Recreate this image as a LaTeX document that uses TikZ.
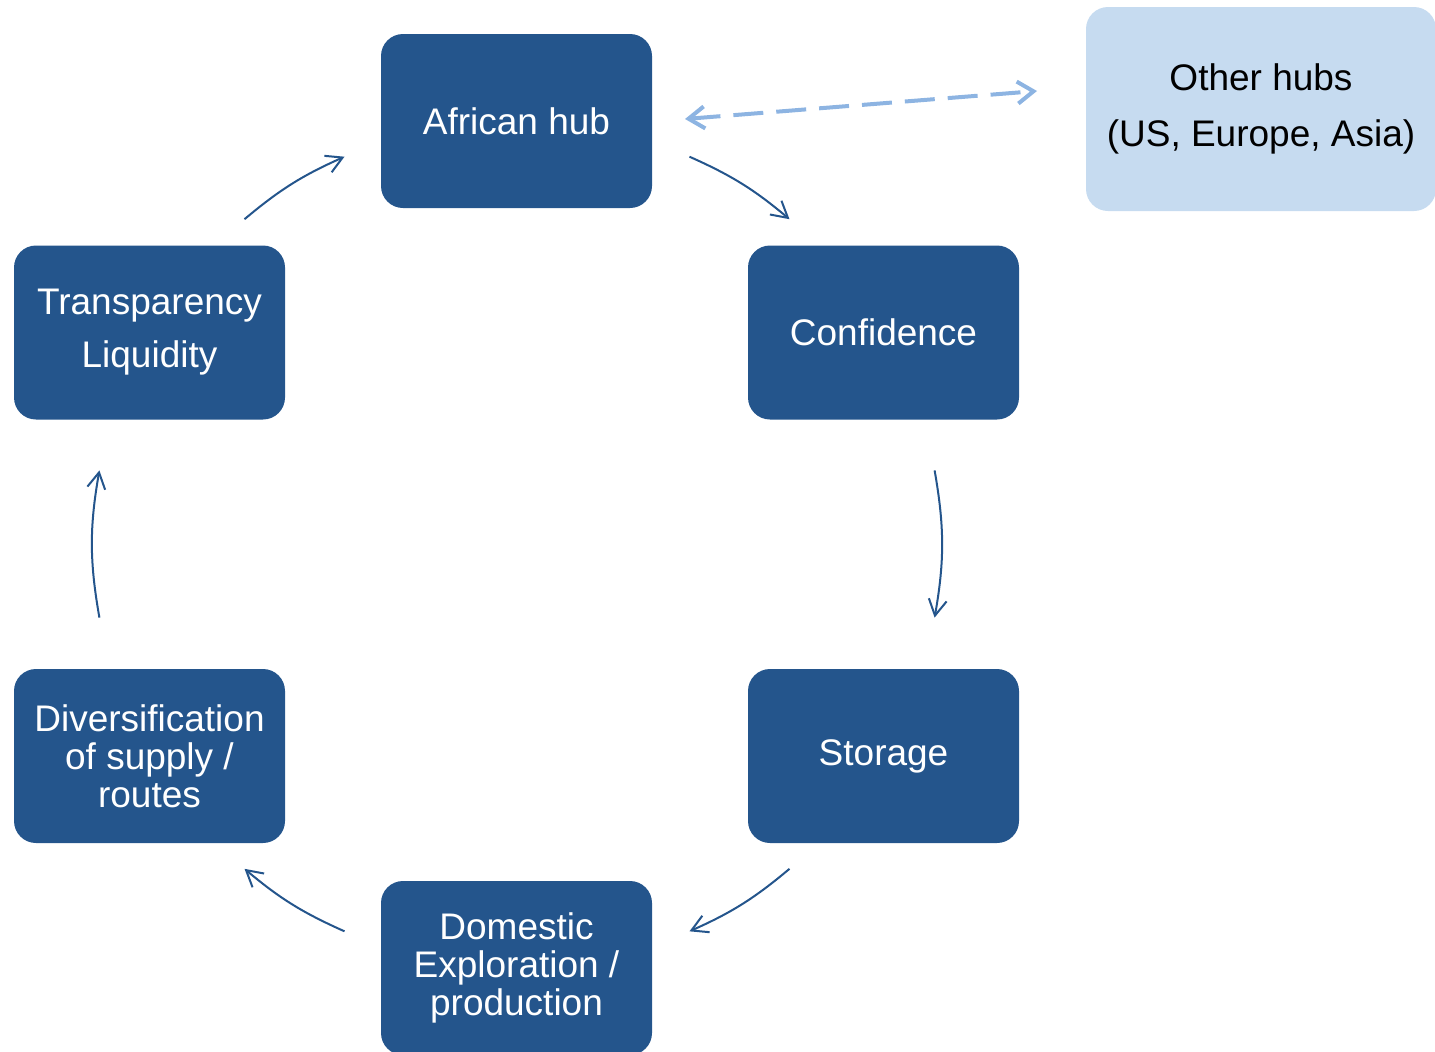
\documentclass[tikz,border=0pt]{standalone}
\usepackage{fontspec}
\setmainfont{Liberation Sans}
\usetikzlibrary{arrows.meta}
\definecolor{boxblue}{RGB}{36,85,140}
\definecolor{lightbox}{RGB}{198,219,240}
\definecolor{dashblue}{RGB}{141,180,226}
\begin{document}
\begin{tikzpicture}[x=0.5pt,y=-0.5pt,
  hubbox/.style={draw=none, fill=boxblue, rounded corners=11pt, minimum width=135.5pt, minimum height=87pt,
    text=white, align=center, inner sep=0pt, font=\fontsize{18.5}{19}\selectfont},
  widebox/.style={hubbox, font=\fontsize{18.5}{26.5}\selectfont},
  otherbox/.style={draw=none, fill=lightbox, rounded corners=11pt, minimum width=175pt, minimum height=102pt,
    text=black, align=center, inner sep=0pt, font=\fontsize{18.5}{28}\selectfont},
  cyc/.style={draw=boxblue, line width=1pt, -{Straight Barb[length=8pt,width=9pt]}},
  link/.style={draw=dashblue, line width=2pt, dash pattern=on 15pt off 6.5pt,
    {Straight Barb[length=8pt,width=11pt]}-{Straight Barb[length=8pt,width=11pt]}}
]
\useasboundingbox (0,0) rectangle (1435,1051);
\node[hubbox] (hub) at (516.5,121) {African hub};
\node[hubbox] (conf) at (883.5,332.5) {Confidence};
\node[hubbox] (stor) at (883.5,756) {Storage};
\node[hubbox] (dom) at (516.5,968) {Domestic\\Exploration /\\production};
\node[hubbox] (div) at (149.5,756) {Diversification\\of supply /\\routes};
\node[widebox] (trans) at (149.5,332.5) {Transparency\\Liquidity};
\node[otherbox] (other) at (1261,109) {Other hubs\\(US, Europe, Asia)};

\coordinate (a1) at (244.5,219.2);
\coordinate (b1) at (344.5,156.7);
\coordinate (a2) at (689.5,156.7);
\coordinate (b2) at (789.5,219.2);
\coordinate (a3) at (934.6,470.4);
\coordinate (b3) at (934.6,617.6);
\coordinate (a4) at (789.5,868.8);
\coordinate (b4) at (689.5,931.3);
\coordinate (a5) at (344.5,931.3);
\coordinate (b5) at (244.5,868.8);
\coordinate (a6) at (99.4,617.6);
\coordinate (b6) at (99.4,470.4);
\coordinate (l1) at (685,119);
\coordinate (l2) at (1037,91);

\draw[cyc] (a1) to[bend left=8] (b1);
\draw[cyc] (a2) to[bend left=8] (b2);
\draw[cyc] (a3) to[bend left=10] (b3);
\draw[cyc] (a4) to[bend left=8] (b4);
\draw[cyc] (a5) to[bend left=8] (b5);
\draw[cyc] (a6) to[bend left=10] (b6);
\draw[link] (l1) -- (l2);
\end{tikzpicture}
\end{document}
